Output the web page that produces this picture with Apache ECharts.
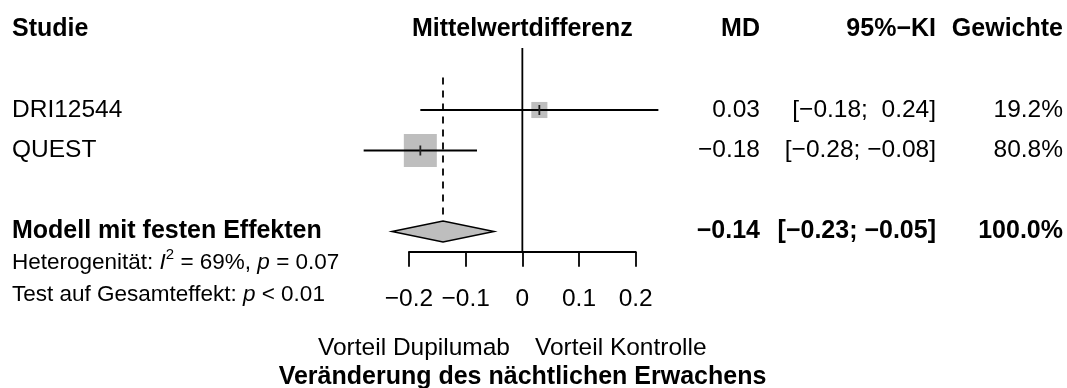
<!DOCTYPE html>
<html>
<head>
<meta charset="utf-8">
<script src="https://cdn.jsdelivr.net/npm/echarts@6/dist/echarts.min.js"></script>
<style>html,body{margin:0;padding:0;background:#fff;}#c{width:1067px;height:388px;}</style>
</head>
<body>
<div id="c"></div>
<script>
// ---- data ----
const studies = ['DRI12544', 'QUEST'];
const md = [0.03, -0.18];
const lower = [-0.18, -0.28];
const upper = [0.24, -0.08];
const weights = [19.2, 80.8];
const pooledLabel = 'Modell mit festen Effekten';
const pooledMD = -0.14;
const pooledLower = -0.23;
const pooledUpper = -0.05;
const pooledWeight = 100.0;
const i2 = 69;
const pHet = '0.07';
const pOverall = '< 0.01';
const tickValues = [-0.2, -0.1, 0, 0.1, 0.2];
const tickLabels = ['\u22120.2', '\u22120.1', '0', '0.1', '0.2'];
const headers = ['Studie', 'Mittelwertdifferenz', 'MD', '95%\u2212KI', 'Gewichte'];
const labelLeft = 'Vorteil Dupilumab';
const labelRight = 'Vorteil Kontrolle';
const xTitle = 'Ver\u00e4nderung des n\u00e4chtlichen Erwachens';

// ---- layout ----
const FONT = '"Liberation Sans", Arial, Helvetica, sans-serif';
const FS = 24.5, FS_BOLD = 25, FS_SMALL = 22.5;
const LW = 1.8;
const studyRows = [2, 3];
const pooledRow = 5;
const colX = [12, 760, 936, 1063];
const grey = '#bebebe';

const fmt = v => (v < 0 ? '\u2212' : '') + Math.abs(v).toFixed(2);
const fmtCI = (lo, hi) => '[' + (lo < 0 ? '' : ' ') + fmt(lo) + '; ' + (hi < 0 ? '' : ' ') + fmt(hi) + ']';

// table cells
const cells = [];
cells.push({row: 0, col: 0, text: headers[0], bold: true, align: 'left'});
cells.push({row: 0, col: 'center', text: headers[1], bold: true, align: 'center'});
cells.push({row: 0, col: 1, text: headers[2], bold: true, align: 'right'});
cells.push({row: 0, col: 2, text: headers[3], bold: true, align: 'right'});
cells.push({row: 0, col: 3, text: headers[4], bold: true, align: 'right'});
studies.forEach((s, i) => {
  const r = studyRows[i];
  cells.push({row: r, col: 0, text: s, bold: false, align: 'left'});
  cells.push({row: r, col: 1, text: fmt(md[i]), bold: false, align: 'right'});
  cells.push({row: r, col: 2, text: fmtCI(lower[i], upper[i]), bold: false, align: 'right'});
  cells.push({row: r, col: 3, text: weights[i].toFixed(1) + '%', bold: false, align: 'right'});
});
cells.push({row: pooledRow, col: 0, text: pooledLabel, bold: true, align: 'left'});
cells.push({row: pooledRow, col: 1, text: fmt(pooledMD), bold: true, align: 'right'});
cells.push({row: pooledRow, col: 2, text: fmtCI(pooledLower, pooledUpper), bold: true, align: 'right'});
cells.push({row: pooledRow, col: 3, text: pooledWeight.toFixed(1) + '%', bold: true, align: 'right'});

const studyData = studies.map((s, i) => [md[i], studyRows[i], lower[i], upper[i], weights[i]]);
const sizeK = 33 / Math.sqrt(80.8);

const chart = echarts.init(document.getElementById('c'), null, {renderer: 'canvas'});
const option = {
  animation: false,
  backgroundColor: '#fff',
  grid: {left: 409, right: 431.3, top: 8.75, bottom: 136.25, containLabel: false},
  xAxis: {
    type: 'value', position: 'bottom', min: -0.2, max: 0.2, interval: 0.1,
    axisLine: {show: true, onZero: false, lineStyle: {color: '#000', width: LW}},
    axisTick: {show: true, length: 15, lineStyle: {color: '#000', width: LW}},
    splitLine: {show: false},
    axisLabel: {
      margin: 35, fontSize: FS, color: '#000', fontFamily: FONT,
      formatter: (v) => { const k = tickValues.findIndex(t => Math.abs(t - v) < 1e-9); return k >= 0 ? tickLabels[k] : ''; }
    }
  },
  yAxis: {type: 'value', inverse: true, min: -0.5, max: 5.5, show: false},
  series: [
    { // zero line
      type: 'line', symbol: 'none', silent: true,
      data: [[0, 0.47], [0, pooledRow + 0.5]],
      lineStyle: {color: '#000', width: LW}
    },
    { // dashed pooled line
      type: 'line', symbol: 'none', silent: true,
      data: [[pooledMD, 1.2], [pooledMD, 4.72]],
      lineStyle: {color: '#000', width: LW, type: [7, 6]}
    },
    { // studies
      type: 'custom', clip: false, silent: true,
      data: studyData,
      renderItem: (params, api) => {
        const y = api.value(1);
        const c = api.coord([api.value(0), y]);
        const lo = api.coord([api.value(2), y]);
        const hi = api.coord([api.value(3), y]);
        const sz = sizeK * Math.sqrt(api.value(4));
        return {type: 'group', children: [
          {type: 'rect', shape: {x: c[0] - sz / 2, y: c[1] - sz / 2, width: sz, height: sz}, style: {fill: grey}},
          {type: 'line', shape: {x1: lo[0], y1: lo[1], x2: hi[0], y2: hi[1]}, style: {stroke: '#000', lineWidth: LW}},
          {type: 'line', shape: {x1: c[0], y1: c[1] - 5, x2: c[0], y2: c[1] + 5}, style: {stroke: '#222', lineWidth: LW}}
        ]};
      }
    },
    { // diamond
      type: 'custom', clip: false, silent: true,
      data: [[pooledMD, pooledRow, pooledLower, pooledUpper]],
      renderItem: (params, api) => {
        const y = api.value(1);
        const c = api.coord([api.value(0), y]);
        const lo = api.coord([api.value(2), y]);
        const hi = api.coord([api.value(3), y]);
        const h = 10.5;
        return {type: 'polygon', shape: {points: [[lo[0], c[1]], [c[0], c[1] - h], [hi[0], c[1]], [c[0], c[1] + h]]},
          style: {fill: grey, stroke: '#000', lineWidth: 1.5}};
      }
    },
    { // table text
      type: 'custom', clip: false, silent: true,
      data: cells.map((c, i) => [0, c.row, i]),
      renderItem: (params, api) => {
        const cell = cells[api.value(2)];
        const y = api.coord([0, api.value(1)])[1];
        const x = cell.col === 'center' ? api.coord([0, 0])[0] : colX[cell.col];
        return {type: 'text', style: {
          x: x, y: y, text: cell.text, fill: '#000',
          fontSize: cell.bold ? FS_BOLD : FS, fontWeight: cell.bold ? 'bold' : 'normal', fontFamily: FONT,
          align: cell.align, verticalAlign: 'middle'
        }};
      }
    }
  ],
  graphic: [
    {type: 'text', left: 12, top: 247, style: {
      text: '{a|Heterogenit\u00e4t: }{i|I}{s|2}{a| = ' + i2 + '%, }{i|p}{a| = ' + pHet + '}',
      rich: {
        a: {fontSize: FS_SMALL, fontFamily: FONT, fill: '#000'},
        i: {fontSize: FS_SMALL, fontFamily: FONT, fontStyle: 'italic', fill: '#000'},
        s: {fontSize: 15, fontFamily: FONT, fill: '#000', padding: [0, 0, 16, 0]}
      }
    }},
    {type: 'text', left: 12, top: 283, style: {
      text: '{a|Test auf Gesamteffekt: }{i|p}{a| ' + pOverall + '}',
      rich: {
        a: {fontSize: FS_SMALL, fontFamily: FONT, fill: '#000'},
        i: {fontSize: FS_SMALL, fontFamily: FONT, fontStyle: 'italic', fill: '#000'}
      }
    }},
    {type: 'text', x: 510, y: 348, style: {text: labelLeft, fontSize: FS, fontFamily: FONT, fill: '#000', align: 'right', verticalAlign: 'middle'}},
    {type: 'text', x: 535, y: 348, style: {text: labelRight, fontSize: FS, fontFamily: FONT, fill: '#000', align: 'left', verticalAlign: 'middle'}},
    {type: 'text', x: 522.5, y: 377, style: {text: xTitle, fontSize: FS_BOLD, fontWeight: 'bold', fontFamily: FONT, fill: '#000', align: 'center', verticalAlign: 'middle'}}
  ]
};
chart.setOption(option);
</script>
</body>
</html>
